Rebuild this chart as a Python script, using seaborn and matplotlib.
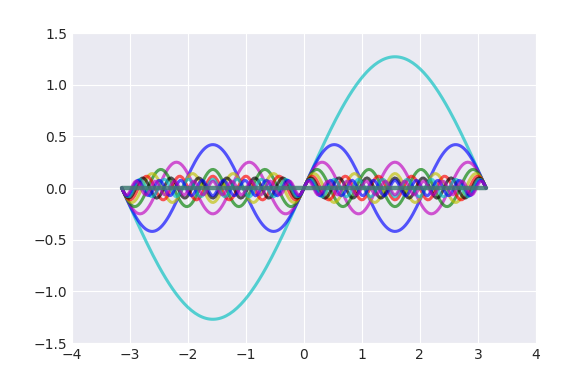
import numpy as np
import pandas as pd
import seaborn as sns
import matplotlib
matplotlib.use("Agg")
import matplotlib.pyplot as plt

# odd harmonics and their amplitudes
harmonics = [1, 3, 5, 7, 9, 11, 13, 15, 17, 19]
amplitudes = [1.27, 0.42, 0.25, 0.18, 0.14, 0.115, 0.098, 0.085, 0.075, 0.067]
line_colors = ['c', 'b', 'm', 'g', 'y', 'r', 'k']

x_ticks = [-4, -3, -2, -1, 0, 1, 2, 3, 4]
y_ticks = [-1.5, -1.0, -0.5, 0.0, 0.5, 1.0, 1.5]


def main():
    sns.set_style("darkgrid")
    plt.rcParams['font.family'] = ['DejaVu Sans']

    fig = plt.figure(figsize=(5.78, 3.82), dpi=100)
    ax = fig.add_axes([0.1246, 0.102, 0.8024, 0.8116])

    x = np.linspace(-np.pi, np.pi, 200)
    rows = []
    for n, a in zip(harmonics, amplitudes):
        for xi in x:
            rows.append({'x': xi, 'y': a * np.sin(n * xi), 'n': n})
    df = pd.DataFrame(rows)

    for i, n in enumerate(harmonics):
        sub = df[df['n'] == n]
        sns.lineplot(x='x', y='y', data=sub, ax=ax, color=line_colors[i % len(line_colors)],
                     alpha=0.65, lw=2.2, sort=False, estimator=None)

    # flat band where the fine harmonics pile up
    ax.plot([-np.pi, np.pi], [0, 0], color='#3f7a72', lw=3.2, alpha=0.85, zorder=5)

    ax.set_xlim(-4, 4)
    ax.set_ylim(-1.5, 1.5)
    ax.set_xticks(x_ticks)
    ax.set_yticks(y_ticks)
    ax.set_xlabel('')
    ax.set_ylabel('')
    ax.tick_params(labelsize=10, colors='#262626', length=0)

    fig.savefig('out.png', dpi=100)


if __name__ == '__main__':
    main()
